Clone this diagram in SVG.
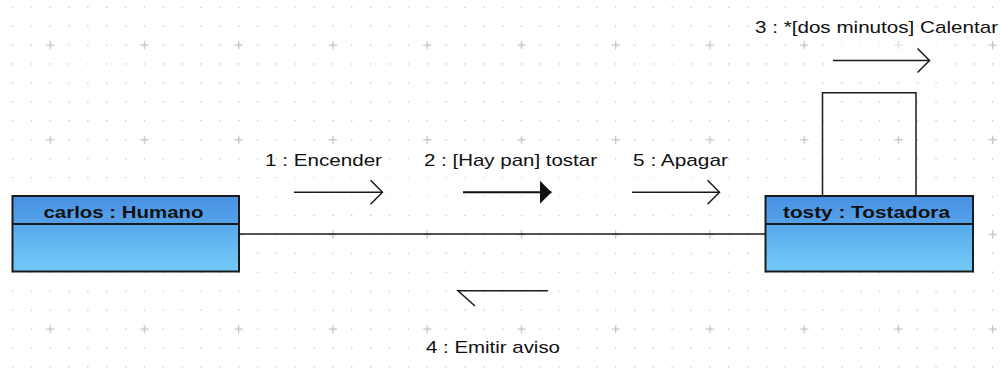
<svg xmlns="http://www.w3.org/2000/svg" width="1001" height="368" viewBox="0 0 1001 368">
<style>
.lbl{font-family:"Liberation Sans",Arial,sans-serif;font-size:17px;fill:#111}
.ttl{font-family:"Liberation Sans",Arial,sans-serif;font-size:17px;font-weight:bold;fill:#111}
.ln{stroke:#1a1a1a;stroke-width:1.5;fill:none}
.box{stroke:#1a1a1a;stroke-width:2}
</style>
<defs>
<pattern id="dots" patternUnits="userSpaceOnUse" x="40.6" y="35.5" width="18.85" height="18.933">
<rect x="9" y="9" width="1.2" height="1.2" fill="#b4b4b4"/>
</pattern>
<pattern id="plus" patternUnits="userSpaceOnUse" x="40.6" y="35.5" width="94.25" height="94.67">
<path d="M5.4 9.6h8.4M9.6 5.4v8.4" stroke="#c4c4c4" stroke-width="1.3"/>
</pattern>
<linearGradient id="hdr" x1="0" y1="0" x2="0" y2="1">
<stop offset="0" stop-color="#4890e2"/>
<stop offset="1" stop-color="#55a3ea"/>
</linearGradient>
<linearGradient id="body" x1="0" y1="0" x2="0" y2="1">
<stop offset="0" stop-color="#57aaec"/>
<stop offset="1" stop-color="#73caf6"/>
</linearGradient>
<marker id="open" markerUnits="userSpaceOnUse" markerWidth="16" markerHeight="28" refX="13" refY="13" orient="auto" viewBox="0 0 16 28">
<path d="M1 1L13 13L1 25" fill="none" stroke="#1a1a1a" stroke-width="1.5"/>
</marker>
<marker id="filled" markerUnits="userSpaceOnUse" markerWidth="14" markerHeight="26" refX="12" refY="12" orient="auto" viewBox="0 0 14 26">
<path d="M0 0L12 12L0 24z" fill="#111"/>
</marker>
</defs>
<rect width="1001" height="368" fill="#fff"/>
<rect width="1001" height="368" fill="url(#dots)"/>
<rect width="1001" height="368" fill="url(#plus)"/>
<rect x="292" y="172" width="437" height="42" fill="#fff" opacity="0.5"/>
<rect x="840" y="43" width="97" height="39" fill="#fff" opacity="0.5"/>

<g id="connectors">
<line class="ln" x1="239" y1="234" x2="765" y2="234"/>
<path class="ln" d="M822.5 196V92.7H916V196"/>
</g>

<g id="messages">
<line class="ln" x1="294" y1="192.3" x2="382.5" y2="192.3" marker-end="url(#open)"/>
<text class="lbl" x="265" y="166" textLength="117" lengthAdjust="spacingAndGlyphs">1 : Encender</text>
<line x1="463" y1="192.3" x2="551.5" y2="192.3" stroke="#111" stroke-width="2" marker-end="url(#filled)"/>
<text class="lbl" x="424" y="166" textLength="173" lengthAdjust="spacingAndGlyphs">2 : [Hay pan] tostar</text>
<line class="ln" x1="632" y1="192.3" x2="719.5" y2="192.3" marker-end="url(#open)"/>
<text class="lbl" x="633" y="166" textLength="95" lengthAdjust="spacingAndGlyphs">5 : Apagar</text>
<line class="ln" x1="833" y1="60.5" x2="929.5" y2="60.5" marker-end="url(#open)"/>
<text class="lbl" x="755" y="33" textLength="243" lengthAdjust="spacingAndGlyphs">3 : *[dos minutos] Calentar</text>
<path class="ln" d="M548 290.8H458L475 306"/>
<text class="lbl" x="426" y="353.3" textLength="134" lengthAdjust="spacingAndGlyphs">4 : Emitir aviso</text>
</g>

<g id="carlos">
<rect x="12.5" y="196" width="226.5" height="28" fill="url(#hdr)"/>
<rect x="12.5" y="224" width="226.5" height="47.5" fill="url(#body)"/>
<rect class="box" x="12.5" y="196" width="226.5" height="75.5" fill="none"/>
<line class="box" x1="12.5" y1="224" x2="239" y2="224"/>
<text class="ttl" x="43.5" y="217.6" textLength="160" lengthAdjust="spacingAndGlyphs">carlos : Humano</text>
</g>

<g id="tosty">
<rect x="765.5" y="196" width="207.5" height="28" fill="url(#hdr)"/>
<rect x="765.5" y="224" width="207.5" height="47.5" fill="url(#body)"/>
<rect class="box" x="765.5" y="196" width="207.5" height="75.5" fill="none"/>
<line class="box" x1="765.5" y1="224" x2="973" y2="224"/>
<text class="ttl" x="783" y="217.6" textLength="167" lengthAdjust="spacingAndGlyphs">tosty : Tostadora</text>
</g>
</svg>
